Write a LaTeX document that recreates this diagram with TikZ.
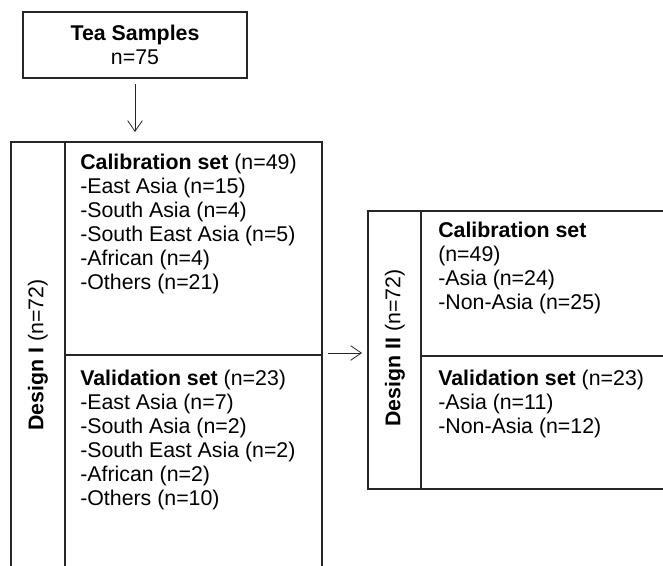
\documentclass[tikz,border=0pt]{standalone}
\usepackage{fontspec}
\setmainfont{Liberation Sans}
\usepackage{tikz}
\usetikzlibrary{arrows.meta, positioning, calc}

\begin{document}
\begin{tikzpicture}[
  x=0.75pt, y=-0.75pt,
  box/.style={draw=black!85, line width=1pt, inner sep=0pt},
  txt/.style={inner sep=0pt, anchor=base west, align=left,
              font=\fontsize{16}{18}\selectfont},
  sidelab/.style={inner sep=0pt, rotate=90, font=\fontsize{16}{18}\selectfont},
  arr/.style={-{Straight Barb[length=8pt, width=11pt]}, line width=0.6pt, black!85},
]

\useasboundingbox (0,0) rectangle (663,566);
\clip (0,0) rectangle (663,566);

% Amostras (topo)
\node[box, minimum width=168pt, minimum height=49.5pt, align=center,
      font=\fontsize{16}{18}\selectfont] (tea) at (135,45)
  {\textbf{Tea Samples}\\n=75};

% Design I (esquerda)
\node[box, minimum width=40.5pt, minimum height=343.5pt] (d1lab) at (38,371) {};
\node[box, minimum width=192.75pt, minimum height=159.75pt] (cal1) at (193.5,248.5) {};
\node[box, minimum width=192.75pt, minimum height=183.75pt] (val1) at (193.5,477.5) {};
\node[sidelab] (d1txt) at (38,355) {\textbf{Design I} (n=72)};

% (base = linha de baixo do texto)
\node[txt] (cal1txt) at (80,290) {\textbf{Calibration set} (n=49)\\-East Asia (n=15)\\-South Asia (n=4)\\-South East Asia (n=5)\\-African (n=4)\\-Others (n=21)};
\node[txt] (val1txt) at (80,505) {\textbf{Validation set} (n=23)\\-East Asia (n=7)\\-South Asia (n=2)\\-South East Asia (n=2)\\-African (n=2)\\-Others (n=10)};

% Design II (direita)
\node[box, minimum width=39.75pt, minimum height=208.5pt] (d2lab) at (394.5,350) {};
\node[box, minimum width=209.25pt, minimum height=108.75pt] (cal2) at (560.5,283.5) {};
\node[box, minimum width=209.25pt, minimum height=99.75pt] (val2) at (560.5,422.5) {};
\node[sidelab] (d2txt) at (395,348) {\textbf{Design II} (n=72)};

\node[txt] (cal2txt) at (438,310) {\textbf{Calibration set}\\(n=49)\\-Asia (n=24)\\-Non-Asia (n=25)};
\node[txt] (val2txt) at (438,433) {\textbf{Validation set} (n=23)\\-Asia (n=11)\\-Non-Asia (n=12)};

% Setas
\draw[arr, shorten <=4pt, shorten >=7pt] (tea.south) -- (tea.south |- d1lab.north);
\draw[arr, shorten <=4pt, shorten >=4pt] ([yshift=2pt]cal1.south east) -- ([yshift=2pt]cal1.south east -| d2lab.west);

\end{tikzpicture}
\end{document}
